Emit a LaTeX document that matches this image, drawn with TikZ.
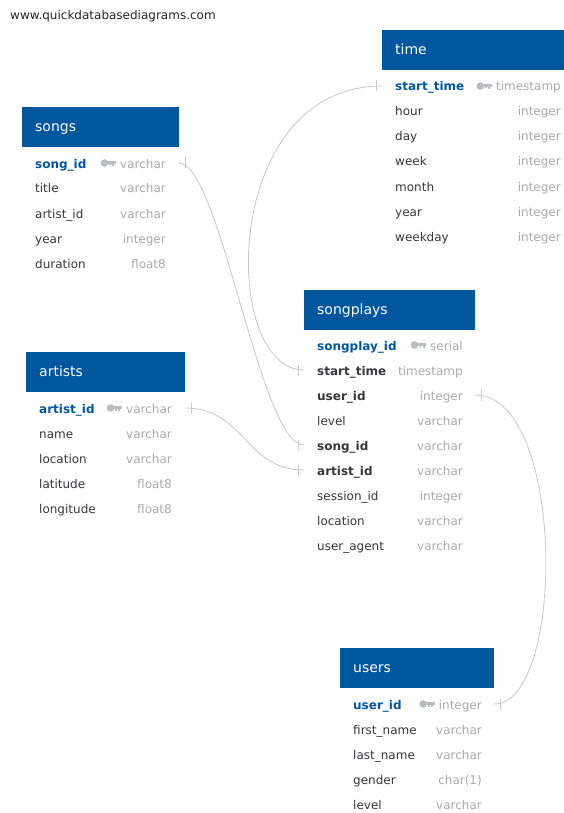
\documentclass[tikz,border=0pt]{standalone}
\usepackage{fontspec}
\setmainfont{DejaVu Sans}
\usetikzlibrary{calc}
\definecolor{qblue}{RGB}{0,87,158}
\definecolor{qtext}{RGB}{55,55,60}
\definecolor{qgray}{RGB}{170,170,170}
\definecolor{qkey}{RGB}{185,188,194}
\definecolor{qline}{RGB}{200,200,200}
\newcommand\pkkey[1]{%
  \coordinate (kk) at ($(#1)+(-4,-5)$);
  \fill[qkey] ($(kk)+(-11.5,0)$) circle[radius=3.8pt];
  \fill[qkey] ($(kk)+(-9,-1.8)$) rectangle ($(kk)+(0,1)$);
  \fill[qkey] ($(kk)+(-3.5,1)$) rectangle ($(kk)+(-1.5,3)$);
  \fill[qkey] ($(kk)+(-6.5,1)$) rectangle ($(kk)+(-5,2.5)$);
}
\newcommand\rtick[1]{\draw[conn] ($(#1)+(6,-5.5)$) -- ($(#1)+(6,5.5)$);}
\newcommand\ltick[1]{\draw[conn] ($(#1)+(-6,-5.5)$) -- ($(#1)+(-6,5.5)$);}
\begin{document}
\begin{tikzpicture}[x=1pt,y=-1pt,
  hdr/.style={fill=qblue, draw=none, anchor=north west, minimum height=39.5pt, inner sep=0},
  htxt/.style={anchor=base west, inner sep=0, text=white, font=\fontsize{14}{16}\selectfont},
  fld/.style={anchor=base west, inner sep=0, text=qtext, font=\fontsize{12}{14}\selectfont},
  pk/.style={anchor=base west, inner sep=0, text=qblue, font=\fontsize{12}{14}\selectfont\bfseries},
  fk/.style={anchor=base west, inner sep=0, text=qtext, font=\fontsize{12}{14}\selectfont\bfseries},
  typ/.style={anchor=base east, inner sep=0, text=qgray, font=\fontsize{12}{14}\selectfont},
  conn/.style={draw=qline, line width=0.8pt},
  site/.style={anchor=base west, inner sep=0, text=black!85, font=\fontsize{12}{14}\selectfont}
]
\useasboundingbox (0,0) rectangle (564,813);
\fill[white] (0,0) rectangle (564,813);

\node[site] (site) at (10,20) {www.quickdatabasediagrams.com};

% ---------- time ----------
\node[hdr, minimum width=182pt] (time) at (382,30) {};
\node[htxt] (time-t) at (395,54.5) {time};
\node[pk] (time-1) at (395,91) {start\_time}; \node[typ] (time-1t) at (561,91) {timestamp};
\pkkey{time-1t.base west}
\node[fld] (time-2) at (395,116) {hour}; \node[typ] (time-2t) at (561,116) {integer};
\node[fld] (time-3) at (395,141) {day}; \node[typ] (time-3t) at (561,141) {integer};
\node[fld] (time-4) at (395,166) {week}; \node[typ] (time-4t) at (561,166) {integer};
\node[fld] (time-5) at (395,191) {month}; \node[typ] (time-5t) at (561,191) {integer};
\node[fld] (time-6) at (395,216) {year}; \node[typ] (time-6t) at (561,216) {integer};
\node[fld] (time-7) at (395,241) {weekday}; \node[typ] (time-7t) at (561,241) {integer};
\coordinate (time-1l) at (382,86);

% ---------- songs ----------
\node[hdr, minimum width=157pt] (songs) at (22,107) {};
\node[htxt] (songs-t) at (35,131.5) {songs};
\node[pk] (songs-1) at (35,168) {song\_id}; \node[typ] (songs-1t) at (166,168) {varchar};
\pkkey{songs-1t.base west}
\node[fld] (songs-2) at (35,193) {title}; \node[typ] (songs-2t) at (166,193) {varchar};
\node[fld] (songs-3) at (35,218) {artist\_id}; \node[typ] (songs-3t) at (166,218) {varchar};
\node[fld] (songs-4) at (35,243) {year}; \node[typ] (songs-4t) at (166,243) {integer};
\node[fld] (songs-5) at (35,268) {duration}; \node[typ] (songs-5t) at (166,268) {float8};
\coordinate (songs-1r) at (179,163);

% ---------- artists ----------
\node[hdr, minimum width=159pt] (artists) at (26,352) {};
\node[htxt] (artists-t) at (39,376.5) {artists};
\node[pk] (artists-1) at (39,413) {artist\_id}; \node[typ] (artists-1t) at (172,413) {varchar};
\pkkey{artists-1t.base west}
\node[fld] (artists-2) at (39,438) {name}; \node[typ] (artists-2t) at (172,438) {varchar};
\node[fld] (artists-3) at (39,463) {location}; \node[typ] (artists-3t) at (172,463) {varchar};
\node[fld] (artists-4) at (39,488) {latitude}; \node[typ] (artists-4t) at (172,488) {float8};
\node[fld] (artists-5) at (39,513) {longitude}; \node[typ] (artists-5t) at (172,513) {float8};
\coordinate (artists-1r) at (185,408);

% ---------- songplays ----------
\node[hdr, minimum width=171pt] (sp) at (304,290) {};
\node[htxt] (sp-t) at (317,314) {songplays};
\node[pk] (sp-1) at (317,350) {songplay\_id}; \node[typ] (sp-1t) at (463,350) {serial};
\pkkey{sp-1t.base west}
\node[fk] (sp-2) at (317,375) {start\_time}; \node[typ] (sp-2t) at (463,375) {timestamp};
\node[fk] (sp-3) at (317,400) {user\_id}; \node[typ] (sp-3t) at (463,400) {integer};
\node[fld] (sp-4) at (317,425) {level}; \node[typ] (sp-4t) at (463,425) {varchar};
\node[fk] (sp-5) at (317,450) {song\_id}; \node[typ] (sp-5t) at (463,450) {varchar};
\node[fk] (sp-6) at (317,475) {artist\_id}; \node[typ] (sp-6t) at (463,475) {varchar};
\node[fld] (sp-7) at (317,500) {session\_id}; \node[typ] (sp-7t) at (463,500) {integer};
\node[fld] (sp-8) at (317,525) {location}; \node[typ] (sp-8t) at (463,525) {varchar};
\node[fld] (sp-9) at (317,550) {user\_agent}; \node[typ] (sp-9t) at (463,550) {varchar};
\coordinate (sp-2l) at (304,370);
\coordinate (sp-3r) at (475,395);
\coordinate (sp-5l) at (304,445);
\coordinate (sp-6l) at (304,470);

% ---------- users ----------
\node[hdr, minimum width=154pt] (users) at (340,648) {};
\node[htxt] (users-t) at (353,672.5) {users};
\node[pk] (users-1) at (353,709) {user\_id}; \node[typ] (users-1t) at (482,709) {integer};
\pkkey{users-1t.base west}
\node[fld] (users-2) at (353,734) {first\_name}; \node[typ] (users-2t) at (482,734) {varchar};
\node[fld] (users-3) at (353,759) {last\_name}; \node[typ] (users-3t) at (482,759) {varchar};
\node[fld] (users-4) at (353,784) {gender}; \node[typ] (users-4t) at (482,784) {char(1)};
\node[fld] (users-5) at (353,809) {level}; \node[typ] (users-5t) at (482,809) {varchar};
\coordinate (users-1r) at (494,704);

% ---------- connectors ----------
\draw[conn] (time-1l) .. controls +(-162,0) and +(-84,0) .. (sp-2l);
\draw[conn] (songs-1r) .. controls +(41,0) and +(-44,0) .. (sp-5l);
\draw[conn] (artists-1r) .. controls +(60,0) and +(-59,0) .. (sp-6l);
\draw[conn] (sp-3r) .. controls +(91,0) and +(72,0) .. (users-1r);
\ltick{time-1l}
\ltick{sp-2l}
\ltick{sp-5l}
\ltick{sp-6l}
\rtick{songs-1r}
\rtick{artists-1r}
\rtick{sp-3r}
\rtick{users-1r}
\end{tikzpicture}
\end{document}
